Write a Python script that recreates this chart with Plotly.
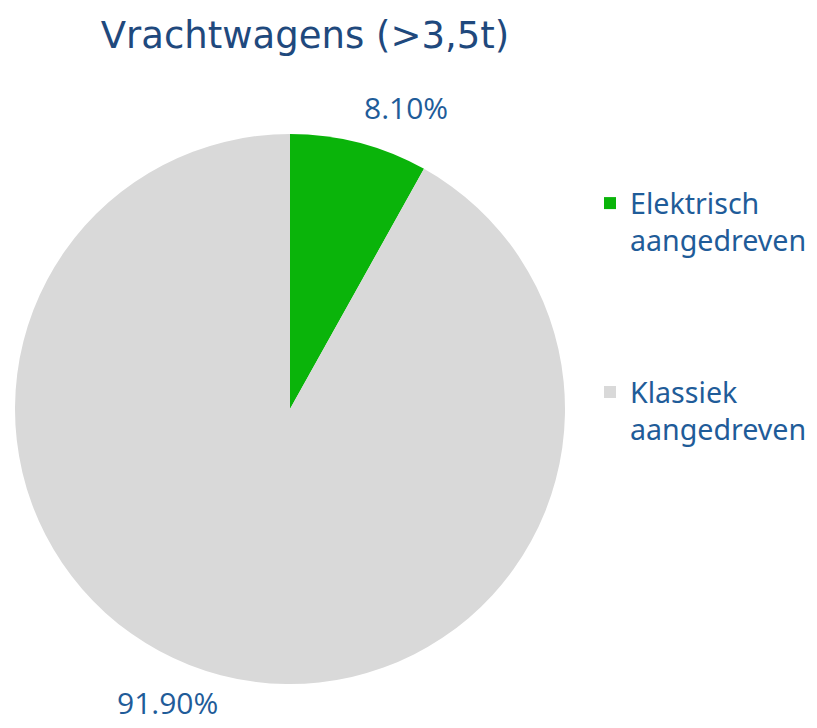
import plotly.graph_objects as go

title = "Vrachtwagens (>3,5t)"
labels = ["Elektrisch aangedreven", "Klassiek aangedreven"]
legend_text = ["Elektrisch<br>aangedreven<br> <br> <br> ", "Klassiek<br>aangedreven"]
values = [8.10, 91.90]
colors = ["#0AB40A", "#D9D9D9"]

fig = go.Figure(go.Pie(
    labels=legend_text,
    values=values,
    marker=dict(colors=colors, line=dict(width=0)),
    sort=False,
    direction="clockwise",
    rotation=0,
    textinfo="none",
    hoverinfo="label+percent",
    domain=dict(x=[7/817, 557/817], y=[52/728, 602/728]),
))

# percentage labels placed outside the slices
label_pos = [(398, 100), (159, 694)]
for v, (px, py) in zip(values, label_pos):
    fig.add_annotation(x=px/817, y=1-py/728, xref="paper", yref="paper",
                       xanchor="center", yanchor="middle",
                       text=f"{v:.2f}%", showarrow=False,
                       font=dict(family="Open Sans", size=30, color="#1F5C99"))

fig.update_layout(
    width=817, height=728,
    margin=dict(l=0, r=0, t=0, b=0),
    paper_bgcolor="white",
    title=dict(text=title, x=297/817, xanchor="center", y=1-27/728, yanchor="middle",
               font=dict(family="DejaVu Sans", size=37, color="#1F497D")),
    showlegend=True,
    legend=dict(x=582/817, y=1-170/728, xanchor="left", yanchor="top",
                font=dict(family="Noto Sans", size=28.6, color="#1F5C99"),
                valign="top", itemclick=False, bgcolor="rgba(0,0,0,0)"),
)

fig.write_html("out.html")
